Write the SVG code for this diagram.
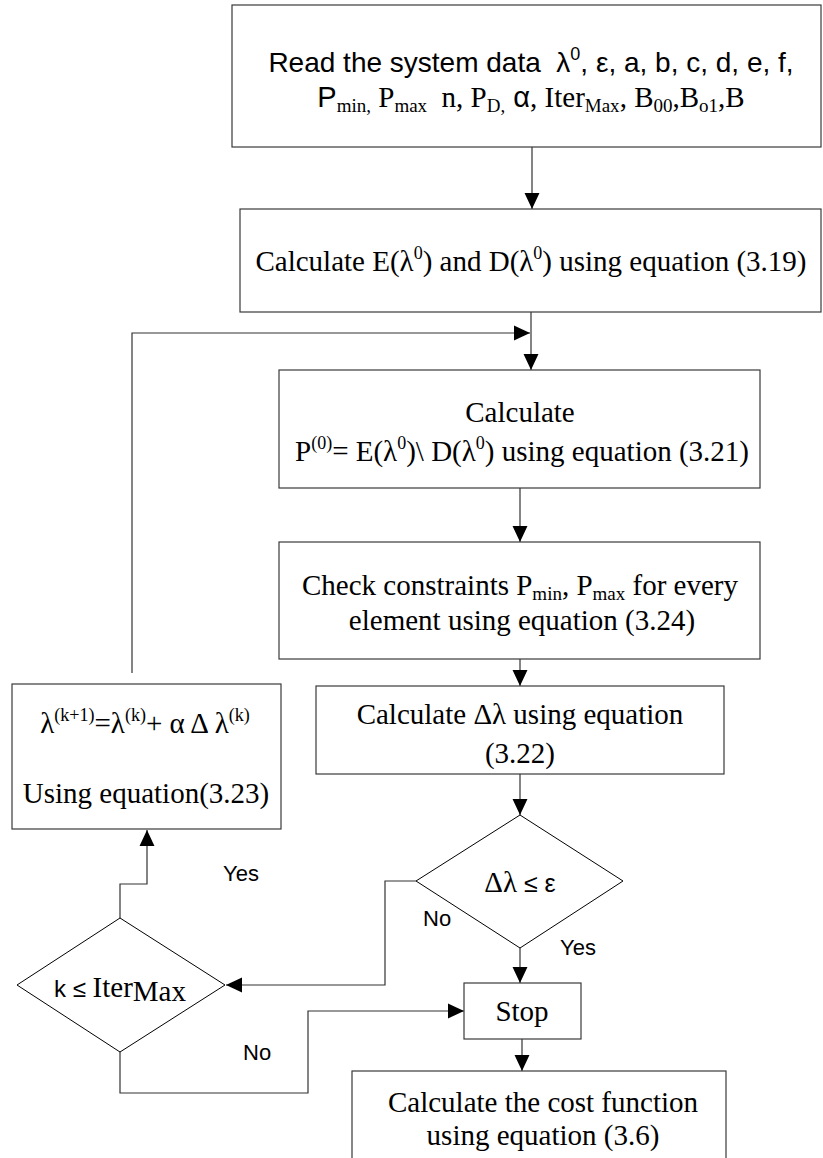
<svg xmlns="http://www.w3.org/2000/svg" width="823" height="1158" viewBox="0 0 823 1158">
  <defs>
    <style>
      .box { fill: #ffffff; stroke: #3a3a3a; stroke-width: 1.2; }
      .dia { fill: #ffffff; stroke: #000000; stroke-width: 1; }
      .wire { fill: none; stroke: #333333; stroke-width: 1.2; }
      .serif { font-family: "Liberation Serif", "Times New Roman", serif; font-size: 29px; fill: #000; }
      .sans { font-family: "Liberation Sans", Arial, sans-serif; fill: #000; }
      .lbl { font-family: "Liberation Sans", Arial, sans-serif; font-size: 22px; fill: #000; }
      .mid { text-anchor: middle; }
    </style>
    <marker id="arrow" markerUnits="userSpaceOnUse" markerWidth="16" markerHeight="16" viewBox="0 0 15 14" refX="15" refY="7" orient="auto">
      <path d="M0,0 L15,7 L0,14 Z" fill="#000"/>
    </marker>
  </defs>

  <!-- connectors -->
  <g id="connectors">
    <line class="wire" x1="532" y1="147" x2="532" y2="209" marker-end="url(#arrow)"/>
    <line class="wire" x1="531" y1="312" x2="531" y2="370" marker-end="url(#arrow)"/>
    <polyline class="wire" points="132,673 132,333 530,333" marker-end="url(#arrow)"/>
    <line class="wire" x1="520" y1="488" x2="520" y2="542" marker-end="url(#arrow)"/>
    <line class="wire" x1="520" y1="659" x2="520" y2="686" marker-end="url(#arrow)"/>
    <line class="wire" x1="520" y1="774" x2="520" y2="815" marker-end="url(#arrow)"/>
    <line class="wire" x1="520" y1="948" x2="520" y2="983" marker-end="url(#arrow)"/>
    <line class="wire" x1="522" y1="1039" x2="522" y2="1071" marker-end="url(#arrow)"/>
    <polyline class="wire" points="416,881 385,881 385,985 226,985" marker-end="url(#arrow)"/>
    <polyline class="wire" points="120,918 120,884 147,884 147,830" marker-end="url(#arrow)"/>
    <polyline class="wire" points="120,1052 120,1093 308,1093 308,1011 464,1011" marker-end="url(#arrow)"/>
  </g>

  <!-- read input data -->
  <g id="read-data">
    <rect class="box" x="232" y="5" width="589" height="142"/>
    <text class="sans mid" x="531" y="72" font-size="28" xml:space="preserve">Read the system data  λ<tspan font-size="18" dy="-12">0</tspan><tspan dy="12">, ε, a, b, c, d, e, f,</tspan></text>
    <text class="serif mid" x="531" y="107" font-size="29" xml:space="preserve"><tspan class="sans">P</tspan><tspan font-size="19" dy="5">min,</tspan><tspan dy="-5"> P</tspan><tspan font-size="19" dy="5">max</tspan><tspan dy="-5">  n, P</tspan><tspan font-size="19" dy="5">D,</tspan><tspan dy="-5" class="sans"> α</tspan><tspan>, Iter</tspan><tspan font-size="19" dy="5">Max</tspan><tspan dy="-5">, B</tspan><tspan font-size="19" dy="5">00</tspan><tspan dy="-5">,B</tspan><tspan font-size="19" dy="5">o1</tspan><tspan dy="-5">,B</tspan></text>
  </g>

  <!-- E and D -->
  <g id="calc-ed">
    <rect class="box" x="240" y="209" width="581" height="103"/>
    <text class="serif mid" x="531" y="271">Calculate E(λ<tspan font-size="18" dy="-12">0</tspan><tspan dy="12">) and D(λ</tspan><tspan font-size="18" dy="-12">0</tspan><tspan dy="12">) using equation (3.19)</tspan></text>
  </g>

  <!-- P(0) -->
  <g id="calc-p">
    <rect class="box" x="279" y="370" width="481" height="118"/>
    <text class="serif mid" x="520" y="422">Calculate</text>
    <text class="serif mid" x="522" y="461">P<tspan font-size="18" dy="-12">(0)</tspan><tspan dy="12">= E(λ</tspan><tspan font-size="18" dy="-12">0</tspan><tspan dy="12">)\ D(λ</tspan><tspan font-size="18" dy="-12">0</tspan><tspan dy="12">) using equation (3.21)</tspan></text>
  </g>

  <!-- constraints -->
  <g id="check-limits">
    <rect class="box" x="279" y="542" width="481" height="117"/>
    <text class="serif mid" x="520" y="595">Check constraints P<tspan font-size="19" dy="5">min</tspan><tspan dy="-5">, P</tspan><tspan font-size="19" dy="5">max</tspan><tspan dy="-5"> for every</tspan></text>
    <text class="serif mid" x="522" y="630">element using equation (3.24)</text>
  </g>

  <!-- delta lambda -->
  <g id="calc-dl">
    <rect class="box" x="316" y="686" width="408" height="88"/>
    <text class="serif mid" x="520" y="724">Calculate Δλ using equation</text>
    <text class="serif mid" x="520" y="763">(3.22)</text>
  </g>

  <!-- lambda update -->
  <g id="update-lambda">
    <rect class="box" x="12" y="684" width="269" height="145"/>
    <text class="serif mid" x="145" y="733">λ<tspan font-size="18" dy="-12">(k+1)</tspan><tspan dy="12">=λ</tspan><tspan font-size="18" dy="-12">(k)</tspan><tspan dy="12">+ α Δ λ</tspan><tspan font-size="18" dy="-12">(k)</tspan></text>
    <text class="serif mid" x="146" y="803">Using equation(3.23)</text>
  </g>

  <!-- convergence test -->
  <g id="test-dl">
    <polygon class="dia" points="520,815 623,881 520,948 416,881"/>
    <text class="mid" x="520" y="892"><tspan class="serif" font-size="27">Δλ</tspan><tspan class="sans" font-size="25"> ≤ ε</tspan></text>
    <text class="lbl" x="423" y="926">No</text>
    <text class="lbl" x="560" y="955">Yes</text>
  </g>

  <!-- iteration test -->
  <g id="test-iter">
    <polygon class="dia" points="120,918 225,985 120,1052 17,985"/>
    <text class="mid" x="120" y="997"><tspan class="sans" font-size="24">k ≤ </tspan><tspan class="serif" font-size="29">Iter</tspan><tspan class="serif" font-size="20" dy="4">Max</tspan></text>
    <text class="lbl" x="223" y="881">Yes</text>
    <text class="lbl" x="243" y="1060">No</text>
  </g>

  <!-- stop -->
  <g id="stop">
    <rect class="box" x="464" y="983" width="117" height="56"/>
    <text class="serif mid" x="522" y="1021">Stop</text>
  </g>

  <!-- cost -->
  <g id="calc-cost">
    <rect class="box" x="352" y="1071" width="374" height="110"/>
    <text class="serif mid" x="543" y="1112">Calculate the cost function</text>
    <text class="serif mid" x="543" y="1145">using equation (3.6)</text>
  </g>
</svg>
